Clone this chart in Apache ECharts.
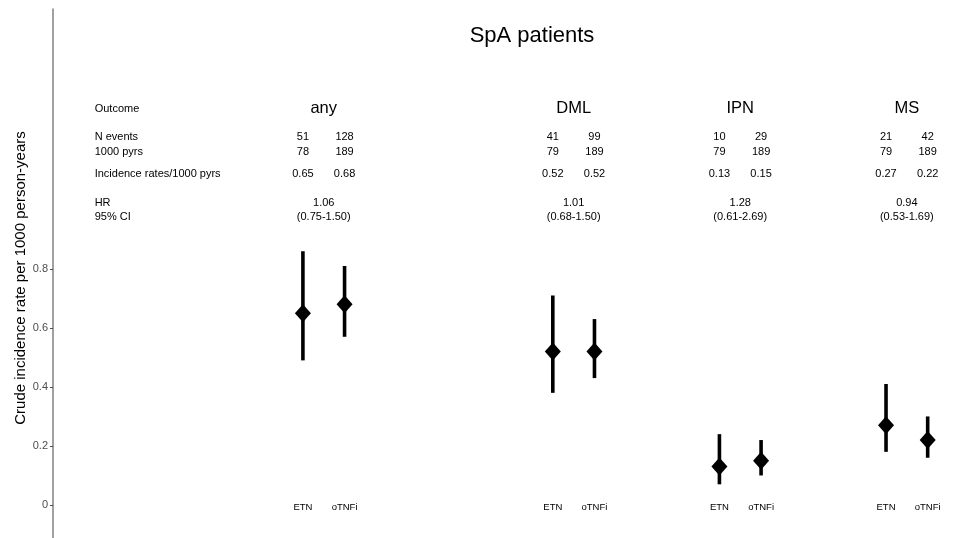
<!DOCTYPE html>
<html>
<head>
<meta charset="utf-8">
<script src="https://cdn.jsdelivr.net/npm/echarts@6/dist/echarts.min.js"></script>
<style>
html,body{margin:0;padding:0;background:#fff;}
#chart{width:956px;height:538px;}
</style>
</head>
<body>
<div id="chart"></div>
<script>
// ---- Data ----
var outcomes = ['any', 'DML', 'IPN', 'MS'];
var groups = ['ETN', 'oTNFi'];
var etnEvents = [51, 41, 10, 21];
var otnfiEvents = [128, 99, 29, 42];
var etnPyrs = [78, 79, 79, 79];
var otnfiPyrs = [189, 189, 189, 189];
var etnRate = [0.65, 0.52, 0.13, 0.27];
var otnfiRate = [0.68, 0.52, 0.15, 0.22];
var etnLower = [0.49, 0.38, 0.07, 0.18];
var etnUpper = [0.86, 0.71, 0.24, 0.41];
var otnfiLower = [0.57, 0.43, 0.10, 0.16];
var otnfiUpper = [0.81, 0.63, 0.22, 0.30];
var hrValues = ['1.06', '1.01', '1.28', '0.94'];
var hrCI = ['(0.75-1.50)', '(0.68-1.50)', '(0.61-2.69)', '(0.53-1.69)'];
var rowLabels = ['Outcome', 'N events', '1000 pyrs', 'Incidence rates/1000 pyrs', 'HR', '95% CI'];
var yTicks = [0, 0.2, 0.4, 0.6, 0.8];
var titleText = 'SpA patients';
var yAxisTitle = 'Crude incidence rate per 1000 person-years';

// ---- Layout (x positions on a numeric axis) ----
var outcomeX = [0, 3, 5, 7];
var groupOffset = [-0.25, 0.25];
var labelX = -2.75;
var rowY = {outcome: 1.343, events: 1.247, pyrs: 1.197, rate: 1.122, hr: 1.024, ci: 0.976, group: -0.007};
var TXT = 11;

function fmt2(v) { return v.toFixed(2); }

var barData = [], pointData = [], textData = [];
outcomes.forEach(function (o, i) {
  var xs = [outcomeX[i] + groupOffset[0], outcomeX[i] + groupOffset[1]];
  barData.push([xs[0], etnLower[i], etnUpper[i]]);
  barData.push([xs[1], otnfiLower[i], otnfiUpper[i]]);
  pointData.push([xs[0], etnRate[i]]);
  pointData.push([xs[1], otnfiRate[i]]);
  textData.push([outcomeX[i], rowY.outcome, o, 16.5]);
  textData.push([xs[0], rowY.events, String(etnEvents[i]), TXT]);
  textData.push([xs[1], rowY.events, String(otnfiEvents[i]), TXT]);
  textData.push([xs[0], rowY.pyrs, String(etnPyrs[i]), TXT]);
  textData.push([xs[1], rowY.pyrs, String(otnfiPyrs[i]), TXT]);
  textData.push([xs[0], rowY.rate, fmt2(etnRate[i]), TXT]);
  textData.push([xs[1], rowY.rate, fmt2(otnfiRate[i]), TXT]);
  textData.push([outcomeX[i], rowY.hr, hrValues[i], TXT]);
  textData.push([outcomeX[i], rowY.ci, hrCI[i], TXT]);
  textData.push([xs[0], rowY.group, groups[0], 9.5]);
  textData.push([xs[1], rowY.group, groups[1], 9.5]);
});
var rowLabelData = [
  [labelX, rowY.outcome, rowLabels[0]],
  [labelX, rowY.events, rowLabels[1]],
  [labelX, rowY.pyrs, rowLabels[2]],
  [labelX, rowY.rate, rowLabels[3]],
  [labelX, rowY.hr, rowLabels[4]],
  [labelX, rowY.ci, rowLabels[5]]
];

var FONT = '"Liberation Sans", Arial, sans-serif';
var chart = echarts.init(document.getElementById('chart'), null, {renderer: 'canvas'});
chart.setOption({
  animation: false,
  backgroundColor: '#fff',
  grid: {left: 53, right: 0, top: 9, bottom: 0, containLabel: false},
  xAxis: {type: 'value', min: -3.25, max: 7.59, show: false},
  yAxis: {
    type: 'value', min: -0.112, max: 1.681,
    splitLine: {show: false},
    axisLine: {show: true, onZero: false, lineStyle: {color: '#808080', width: 1.5}},
    axisTick: {show: true, length: 3, lineStyle: {color: '#4d4d4d'}, customValues: yTicks},
    axisLabel: {color: '#4d4d4d', fontSize: 11, fontFamily: FONT, margin: 5, customValues: yTicks,
      formatter: function (v) { return Math.abs(v) < 1e-9 ? '0' : String(+v.toFixed(1)); }}
  },
  graphic: [
    {type: 'text', x: 532, y: 36, style: {text: titleText, font: '22px ' + FONT, fill: '#000', textAlign: 'center', textVerticalAlign: 'middle'}},
    {type: 'text', x: 21, y: 278, rotation: Math.PI / 2,
      style: {text: yAxisTitle, font: '15px ' + FONT, fill: '#000', textAlign: 'center', textVerticalAlign: 'middle'}}
  ],
  series: [
    {
      type: 'custom',
      data: barData,
      renderItem: function (params, api) {
        var p1 = api.coord([api.value(0), api.value(1)]);
        var p2 = api.coord([api.value(0), api.value(2)]);
        return {type: 'line', shape: {x1: p1[0], y1: p1[1], x2: p2[0], y2: p2[1]},
          style: {stroke: '#000', lineWidth: 3.6}};
      },
      z: 2
    },
    {
      type: 'scatter',
      data: pointData,
      symbol: 'diamond',
      symbolSize: [16, 18],
      itemStyle: {color: '#000', opacity: 1},
      z: 3
    },
    {
      type: 'custom',
      data: textData,
      renderItem: function (params, api) {
        var p = api.coord([api.value(0), api.value(1)]);
        return {type: 'text', x: p[0], y: p[1],
          style: {text: textData[params.dataIndex][2], font: textData[params.dataIndex][3] + 'px ' + FONT,
            fill: '#000', textAlign: 'center', textVerticalAlign: 'middle'}};
      }
    },
    {
      type: 'custom',
      data: rowLabelData,
      renderItem: function (params, api) {
        var p = api.coord([api.value(0), api.value(1)]);
        return {type: 'text', x: p[0], y: p[1],
          style: {text: rowLabelData[params.dataIndex][2], font: TXT + 'px ' + FONT,
            fill: '#000', textAlign: 'left', textVerticalAlign: 'middle'}};
      }
    }
  ]
});
</script>
</body>
</html>
